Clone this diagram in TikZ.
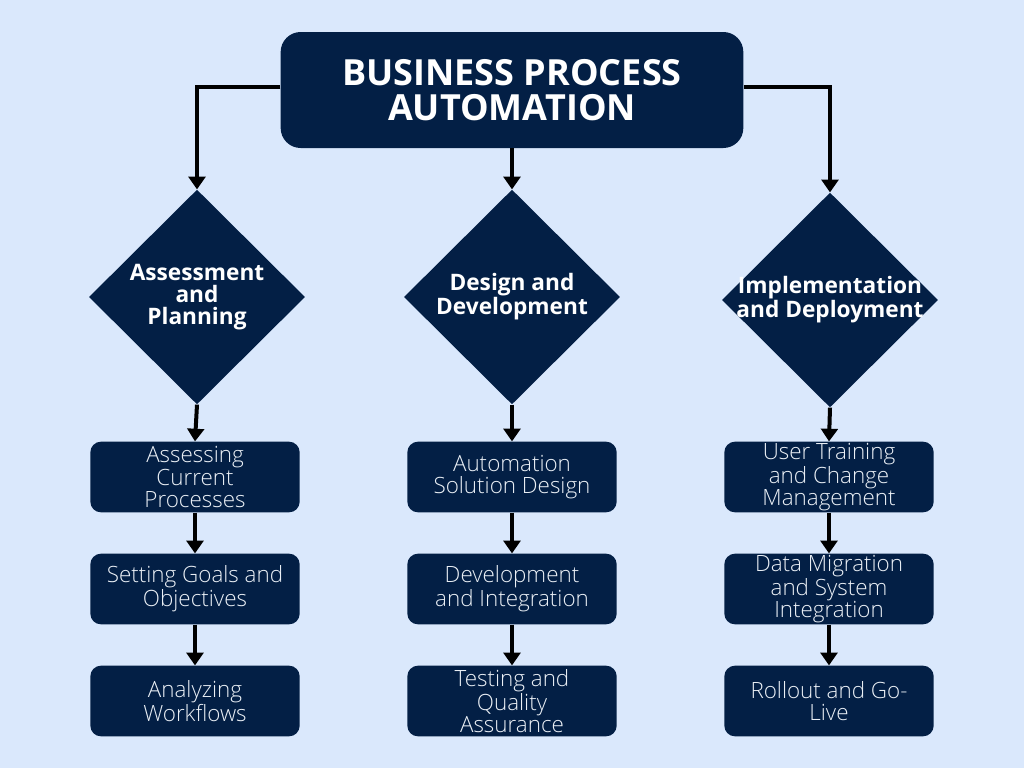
\documentclass[tikz,border=0pt]{standalone}
\usepackage{fontspec}
\setmainfont{Open Sans}
\newfontfamily\oslight{Open Sans Light}
\usetikzlibrary{shapes.geometric,arrows.meta}
\definecolor{bgblue}{RGB}{218,232,252}
\definecolor{navy}{RGB}{3,31,69}
\definecolor{paletext}{RGB}{235,240,246}
\tikzset{
    titlebox/.style={fill=navy, rounded corners=15pt, minimum width=347pt, minimum height=87pt, align=center, text=white, font=\bfseries\fontsize{27}{26.5}\selectfont},
    phase/.style={diamond, fill=navy, minimum width=162pt, minimum height=161pt, inner sep=0pt},
    phaselabel/.style={align=center, text=white, font=\bfseries\fontsize{17}{16.5}\selectfont},
    taskbox/.style={fill=navy, rounded corners=8pt, minimum width=157pt, minimum height=53pt, align=center, text=paletext, inner sep=0pt, font=\oslight\fontsize{16.8}{16.6}\selectfont},
    arr/.style={line width=3pt, -{Triangle[width=12.5pt,length=9.5pt]}}
}
\begin{document}
\begin{tikzpicture}[x=0.75pt,y=-0.75pt]
    \fill[bgblue] (0,0) rectangle (1024,768);
    \useasboundingbox (0,0) rectangle (1024,768);

    \node[titlebox] (top) at (512,90) {BUSINESS PROCESS\\AUTOMATION};

    \node[phase] (p1) at (197,297) {};
    \node[phase] (p2) at (512,297) {};
    \node[phase] (p3) at (830,300) {};
    \node[phaselabel] (l1) at (p1) {Assessment\\and\\Planning};
    \node[phaselabel] (l2) at (p2) {Design and\\Development};
    \node[phaselabel] (l3) at (p3) {Implementation\\and Deployment};

    \node[taskbox] (a1) at (195,477) {Assessing\\Current\\Processes};
    \node[taskbox] (a2) at (195,589) {Setting Goals and\\Objectives};
    \node[taskbox] (a3) at (195,701) {Analyzing\\Workflows};

    \node[taskbox] (b1) at (512,477) {Automation\\Solution Design};
    \node[taskbox] (b2) at (512,589) {Development\\and Integration};
    \node[taskbox] (b3) at (512,701) {Testing and\\Quality\\Assurance};

    \node[taskbox] (c1) at (829,477) {User Training\\and Change\\Management};
    \node[taskbox] (c2) at (829,589) {Data Migration\\and System\\Integration};
    \node[taskbox] (c3) at (829,701) {Rollout and Go-\\Live};

    \draw[arr] ([yshift=2pt]top.west) -| (p1.north);
    \draw[arr] (top.south) -- (p2.north);
    \draw[arr] ([yshift=2pt]top.east) -| (p3.north);

    \draw[arr] (p1.south) -- (a1.north);
    \draw[arr] (a1.south) -- (a2.north);
    \draw[arr] (a2.south) -- (a3.north);

    \draw[arr] (p2.south) -- (b1.north);
    \draw[arr] (b1.south) -- (b2.north);
    \draw[arr] (b2.south) -- (b3.north);

    \draw[arr] (p3.south) -- (c1.north);
    \draw[arr] (c1.south) -- (c2.north);
    \draw[arr] (c2.south) -- (c3.north);
\end{tikzpicture}
\end{document}
